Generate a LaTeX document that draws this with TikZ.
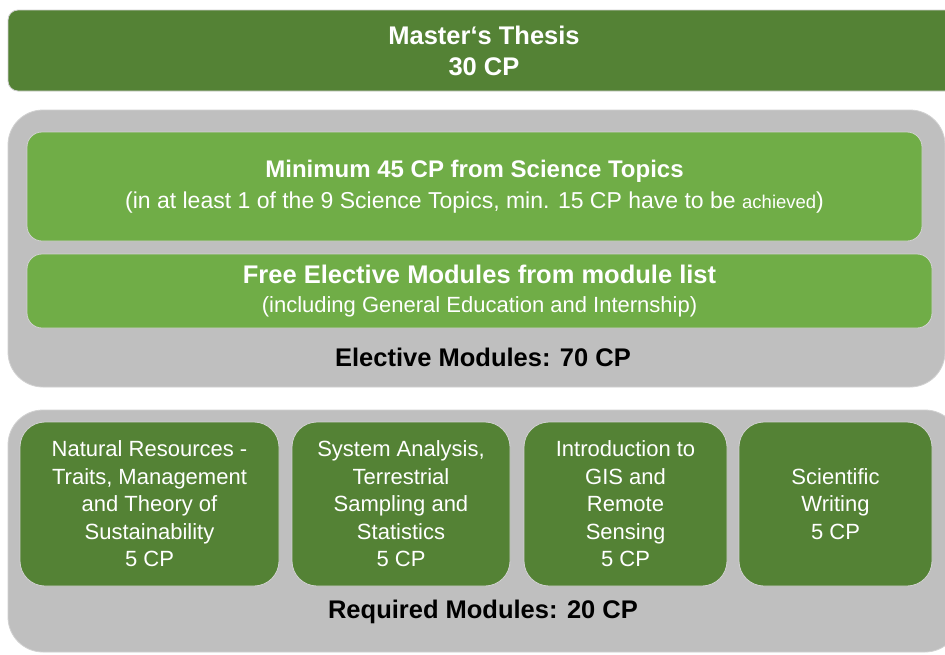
\documentclass[tikz,border=0pt]{standalone}
\usepackage{fontspec}
\setmainfont{Liberation Sans}
\definecolor{darkgreen}{HTML}{548235}
\definecolor{lightgreen}{HTML}{70AD47}
\definecolor{panelgray}{HTML}{BFBFBF}
\begin{document}
\begin{tikzpicture}[x=1pt,y=-1pt,line join=round,
    box/.style={draw=white!82!black,line width=.8pt,rectangle,align=center,inner sep=0pt},
    thesis/.style={box,fill=darkgreen,text=white,rounded corners=10pt,font=\bfseries\fontsize{25.5}{31}\selectfont},
    panel/.style={box,fill=panelgray,rounded corners=35pt},
    topicbox/.style={box,fill=lightgreen,text=white,rounded corners=15pt},
    modbox/.style={box,fill=darkgreen,text=white,rounded corners=25pt,minimum height=164pt,font=\fontsize{22}{27.5}\selectfont},
    paneltitle/.style={font=\bfseries\fontsize{25.5}{31}\selectfont}]
    \clip (0,0) rectangle (945,654);
    \fill[white] (0,0) rectangle (945,654);
    \node[thesis,minimum width=952pt,minimum height=81pt] (thesis) at (484,50.5) {Master‘s Thesis\\30 CP};
    \node[panel,minimum width=937pt,minimum height=277pt] (elective) at (476.5,248.5) {};
    \node[topicbox,minimum width=895pt,minimum height=109pt,font=\fontsize{23}{31}\selectfont] (science) at (474.5,186.5)
        {{\bfseries\fontsize{24}{31}\selectfont Minimum 45 CP from Science Topics}\\(in at least 1 of the 9 Science Topics, min. 15 CP have to be {\fontsize{18.5}{31}\selectfont achieved})};
    \node[topicbox,minimum width=905pt,minimum height=74pt,font=\fontsize{22}{29}\selectfont] (free) at (479.5,291)
        {{\bfseries\fontsize{25.5}{29}\selectfont Free Elective Modules from module list}\\(including General Education and Internship)};
    \node[paneltitle] (electivetitle) at (483,357) {Elective Modules: 70 CP};
    \node[panel,minimum width=952pt,minimum height=242pt] (required) at (484,531) {};
    \node[modbox,minimum width=259pt] (natres) at (149.5,504) {Natural Resources -\\Traits, Management\\and Theory of\\Sustainability\\5 CP};
    \node[modbox,minimum width=218pt] (sysana) at (401,504) {System Analysis,\\Terrestrial\\Sampling and\\Statistics\\5 CP};
    \node[modbox,minimum width=203pt] (gis) at (625.5,504) {Introduction to\\GIS and\\Remote\\Sensing\\5 CP};
    \node[modbox,minimum width=193pt] (writing) at (835.5,504) {Scientific\\Writing\\5 CP};
    \node[paneltitle] (requiredtitle) at (483,612) {Required Modules: 20 CP};
\end{tikzpicture}
\end{document}
